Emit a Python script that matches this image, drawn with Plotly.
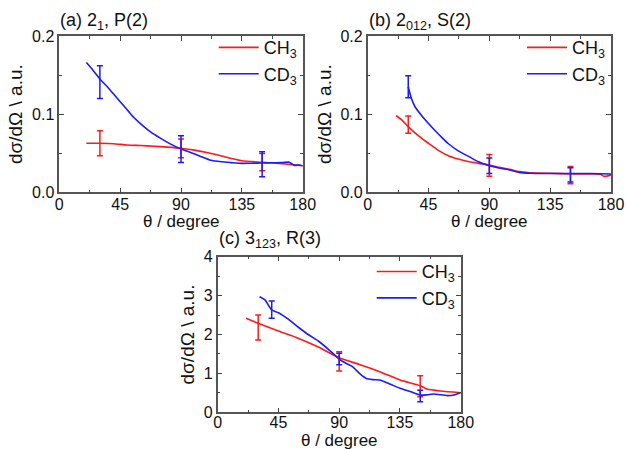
import plotly.graph_objects as go

# ---------------- data ----------------
# panel (a) 2_1, P(2)
a_ch3_theta = [20, 30, 40, 50, 60, 70, 80, 90, 100, 110, 120, 135, 150, 165, 180]
a_ch3_val   = [0.0627, 0.0627, 0.0622, 0.0605, 0.0598, 0.0590, 0.0578, 0.0563, 0.0540, 0.0507, 0.0465, 0.0404, 0.0384, 0.0365, 0.0340]
a_cd3_theta = [20, 25, 30, 35, 40, 45, 50, 55, 60, 67, 75, 82, 90, 97, 105, 112, 120, 127, 135, 142, 150, 157, 165, 170, 174, 177, 180]
a_cd3_val   = [0.166, 0.156, 0.145, 0.136, 0.126, 0.116, 0.106, 0.096, 0.088, 0.078, 0.069, 0.062, 0.0555, 0.0510, 0.0456, 0.0410, 0.0390, 0.0380, 0.0370, 0.0372, 0.0375, 0.0378, 0.0380, 0.0385, 0.0345, 0.0350, 0.0340]
a_err_theta_ch3 = [30, 90, 150]
a_err_val_ch3   = [0.0627, 0.0563, 0.0385]
a_err_ch3       = [0.016, 0.012, 0.011]
a_err_theta_cd3 = [30, 90, 150]
a_err_val_cd3   = [0.141, 0.0553, 0.036]
a_err_cd3       = [0.021, 0.017, 0.016]

# panel (b) 2_012, S(2)
b_ch3_theta = [21, 25, 30, 35, 40, 45, 52, 60, 67, 75, 82, 90, 97, 105, 112, 120, 135, 150, 165, 172, 175, 180]
b_ch3_val   = [0.098, 0.093, 0.084, 0.076, 0.069, 0.0627, 0.054, 0.0465, 0.0425, 0.039, 0.0370, 0.035, 0.0320, 0.0294, 0.0265, 0.0251, 0.0243, 0.0235, 0.0235, 0.0230, 0.0204, 0.0220]
b_cd3_theta = [30, 32, 35, 40, 45, 50, 55, 60, 67, 75, 82, 90, 97, 105, 112, 120, 135, 150, 165, 180]
b_cd3_val   = [0.135, 0.122, 0.1095, 0.098, 0.088, 0.0788, 0.070, 0.0618, 0.053, 0.0456, 0.039, 0.034, 0.031, 0.0285, 0.0255, 0.0243, 0.0240, 0.0240, 0.0240, 0.0235]
b_err_theta_ch3 = [30, 90, 150]
b_err_val_ch3   = [0.0866, 0.0345, 0.022]
b_err_ch3       = [0.011, 0.014, 0.011]
b_err_theta_cd3 = [30, 90, 150]
b_err_val_cd3   = [0.135, 0.034, 0.0223]
b_err_cd3       = [0.014, 0.010, 0.009]

# panel (c) 3_123, R(3)
c_ch3_theta = [21, 30, 45, 60, 75, 90, 105, 120, 135, 150, 155, 165, 180]
c_ch3_val   = [2.415, 2.29, 2.09, 1.90, 1.67, 1.40, 1.23, 1.045, 0.83, 0.685, 0.60, 0.548, 0.505]
c_cd3_theta = [31, 35, 40, 45, 52, 60, 67, 75, 82, 90, 95, 100, 105, 110, 115, 120, 128, 135, 143, 150, 155, 160, 170, 175, 180]
c_cd3_val   = [2.97, 2.89, 2.63, 2.56, 2.40, 2.18, 2.00, 1.82, 1.62, 1.37, 1.26, 1.17, 1.00, 0.87, 0.84, 0.83, 0.72, 0.62, 0.53, 0.445, 0.45, 0.47, 0.43, 0.445, 0.51]
c_err_theta_ch3 = [30, 90, 150]
c_err_val_ch3   = [2.18, 1.31, 0.67]
c_err_ch3       = [0.32, 0.245, 0.27]
c_err_theta_cd3 = [40, 90, 150]
c_err_val_cd3   = [2.64, 1.37, 0.42]
c_err_cd3       = [0.22, 0.15, 0.15]

panel_titles = ["(a) 2<sub>1</sub>, P(2)", "(b) 2<sub>012</sub>, S(2)", "(c) 3<sub>123</sub>, R(3)"]
series_names = ["CH<sub>3</sub>", "CD<sub>3</sub>"]
x_title = "θ / degree"
y_title = "dσ/dΩ \\ a.u."
x_ticks = [0, 45, 90, 135, 180]

RED = "#ff1a1a"
BLUE = "#1a1aff"
FONT = "Liberation Sans, Arial, sans-serif"

fig = go.Figure()

panels = [
    dict(ch3=(a_ch3_theta, a_ch3_val), cd3=(a_cd3_theta, a_cd3_val),
         ech3=(a_err_theta_ch3, a_err_val_ch3, a_err_ch3), ecd3=(a_err_theta_cd3, a_err_val_cd3, a_err_cd3),
         xa="x", ya="y", lg="legend"),
    dict(ch3=(b_ch3_theta, b_ch3_val), cd3=(b_cd3_theta, b_cd3_val),
         ech3=(b_err_theta_ch3, b_err_val_ch3, b_err_ch3), ecd3=(b_err_theta_cd3, b_err_val_cd3, b_err_cd3),
         xa="x2", ya="y2", lg="legend2"),
    dict(ch3=(c_ch3_theta, c_ch3_val), cd3=(c_cd3_theta, c_cd3_val),
         ech3=(c_err_theta_ch3, c_err_val_ch3, c_err_ch3), ecd3=(c_err_theta_cd3, c_err_val_cd3, c_err_cd3),
         xa="x3", ya="y3", lg="legend3"),
]

for p in panels:
    for key, name, col in [("ch3", series_names[0], RED), ("cd3", series_names[1], BLUE)]:
        fig.add_trace(go.Scatter(x=p[key][0], y=p[key][1], mode="lines", name=name,
                                 line=dict(color=col, width=1.6, shape="spline", smoothing=0.6),
                                 xaxis=p["xa"], yaxis=p["ya"], legend=p["lg"]))
    for ekey, col in [("ech3", RED), ("ecd3", BLUE)]:
        ex, ey, ee = p[ekey]
        fig.add_trace(go.Scatter(x=ex, y=ey, mode="markers", showlegend=False,
                                 marker=dict(size=1, color=col, opacity=0),
                                 error_y=dict(type="data", array=ee, visible=True, color=col, thickness=1.5, width=3),
                                 xaxis=p["xa"], yaxis=p["ya"]))

def xaxis_cfg(domain, anchor, standoff):
    return dict(domain=domain, anchor=anchor, range=[0, 180], tickvals=x_ticks, automargin=False,
                ticks="inside", ticklen=5, tickwidth=1, tickcolor="#444", ticklabelstandoff=standoff,
                minor=dict(dtick=22.5, ticks="inside", ticklen=3, tickcolor="#444", showgrid=False),
                showline=True, linecolor="#555", linewidth=1.5, mirror="allticks",
                showgrid=False, zeroline=False,
                tickfont=dict(size=16, family=FONT, color="#111"))

def yaxis_cfg(domain, anchor, rng, dtick, minor, fmt):
    return dict(domain=domain, anchor=anchor, range=rng, dtick=dtick, tick0=0, tickformat=fmt, automargin=False,
                ticks="inside", ticklen=5, tickwidth=1, tickcolor="#444",
                minor=dict(dtick=minor, ticks="inside", ticklen=3, tickcolor="#444", showgrid=False),
                showline=True, linecolor="#555", linewidth=1.5, mirror="allticks",
                showgrid=False, zeroline=False,
                title=dict(text=y_title, font=dict(size=19, family=FONT, color="#111"), standoff=4),
                tickfont=dict(size=16, family=FONT, color="#111"))

ya_dom = [0.5717, 0.9198]
yc_dom = [0.0817, 0.4283]
xa_dom = [0.0946, 0.4828]
xb_dom = [0.5864, 0.9745]
xc_dom = [0.3472, 0.7348]

def legend_cfg(x, y):
    return dict(x=x, y=y, xanchor="right", yanchor="top", bgcolor="rgba(0,0,0,0)",
                font=dict(size=18, family=FONT, color="#111"), itemwidth=40)

fig.update_layout(
    width=627, height=449, margin=dict(l=0, r=0, t=0, b=0, autoexpand=False),
    paper_bgcolor="white", plot_bgcolor="white",
    font=dict(family=FONT, color="#111"),
    xaxis=xaxis_cfg(xa_dom, "y", -3),
    yaxis=yaxis_cfg(ya_dom, "x", [0, 0.2], 0.1, 0.05, ".1f"),
    xaxis2=xaxis_cfg(xb_dom, "y2", -3),
    yaxis2=yaxis_cfg(ya_dom, "x2", [0, 0.2], 0.1, 0.05, ".1f"),
    xaxis3=xaxis_cfg(xc_dom, "y3", -5),
    yaxis3=yaxis_cfg(yc_dom, "x3", [0, 4], 1, 0.5, "d"),
    legend=legend_cfg(xa_dom[1], 0.935),
    legend2=legend_cfg(xb_dom[1], 0.935),
    legend3=legend_cfg(xc_dom[1], 0.436),
    showlegend=True,
)

for txt, x, y in [(panel_titles[0], 0.0930, 0.953), (panel_titles[1], 0.5850, 0.953), (panel_titles[2], 0.3460, 0.467)]:
    fig.add_annotation(text=txt, x=x, y=y, xref="paper", yref="paper", xanchor="left", yanchor="middle",
                       showarrow=False, font=dict(size=18, family=FONT, color="#111"))

# x-axis titles placed under each panel
for dom, y in [(xa_dom, 0.5056), (xb_dom, 0.5056), (xc_dom, 0.0195)]:
    fig.add_annotation(text=x_title, x=(dom[0] + dom[1]) / 2, y=y, xref="paper", yref="paper",
                       xanchor="center", yanchor="middle", showarrow=False,
                       font=dict(size=17, family=FONT, color="#111"))

fig.write_html("out.html")
